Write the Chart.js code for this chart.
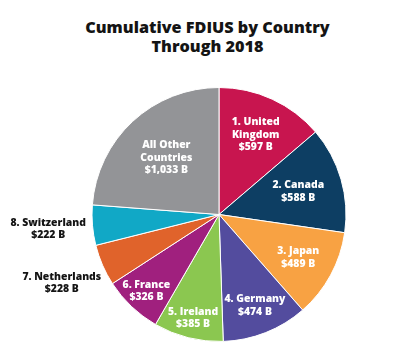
<!DOCTYPE html>
<html>
<head>
<meta charset="utf-8">
<script src="https://cdn.jsdelivr.net/npm/chart.js@4.4.0/dist/chart.umd.min.js"></script>
<style>
  html, body { margin: 0; padding: 0; background: #fff; }
  #wrap { position: relative; width: 411px; height: 362px; }
  #title {
    position: absolute; left: 2px; top: 18px; width: 411px;
    text-align: center; font-family: "Open Sans", sans-serif; font-weight: 800;
    font-size: 16.2px; line-height: 19px; color: #141414;
  }
  canvas { position: absolute; left: 0; top: 0; }
</style>
</head>
<body>
<div id="wrap">
  <div id="title">Cumulative FDIUS by Country<br>Through 2018</div>
  <canvas id="chart" width="411" height="362"></canvas>
</div>
<script>
  // countries in drawing order (clockwise from top), label lines
  let countries = [
    ['1. United', 'Kingdom'],
    ['2. Canada'],
    ['3. Japan'],
    ['4. Germany'],
    ['5. Ireland'],
    ['6. France'],
    ['7. Netherlands'],
    ['8. Switzerland'],
    ['All Other', 'Countries']
  ];
  // cumulative FDIUS, billions of dollars
  let values = [597, 588, 489, 474, 385, 326, 228, 222, 1033];

  let colors = ['#c8154f', '#0d3e63', '#f8a243', '#534c9e', '#8bc750',
                '#a0207e', '#e0632b', '#11a8c6', '#939497'];

  function money(v) {
    return '$' + v.toLocaleString('en-US') + ' B';
  }

  // draws the text for each slice, placed along the slice's middle angle
  let sliceLabels = {
    id: 'sliceLabels',
    afterDatasetsDraw(chart, args, opts) {
      let ctx = chart.ctx;
      let meta = chart.getDatasetMeta(0);
      ctx.save();
      ctx.textAlign = 'center';
      ctx.textBaseline = 'middle';
      meta.data.forEach((arc, i) => {
        let p = arc.getProps(['x', 'y', 'startAngle', 'endAngle', 'outerRadius'], true);
        let mid = (p.startAngle + p.endAngle) / 2;
        let f = opts.radius[i];
        let outside = f > 1;
        let cx = p.x + Math.cos(mid) * p.outerRadius * f;
        let cy = p.y + Math.sin(mid) * p.outerRadius * f;
        let lines = countries[i].concat([money(values[i])]);
        ctx.font = '800 ' + (outside ? 10.4 : 10.4) + 'px "Open Sans", sans-serif';
        ctx.fillStyle = outside ? '#141414' : '#ffffff';
        let lh = outside ? 12 : 12.5;
        let top = cy - (lines.length - 1) * lh / 2;
        lines.forEach((t, k) => ctx.fillText(t, cx, top + k * lh));
      });
      ctx.restore();
    }
  };

  let chart = new Chart(document.getElementById('chart').getContext('2d'), {
    type: 'pie',
    data: {
      labels: countries.map(c => c.join(' ')),
      datasets: [{
        data: values,
        backgroundColor: colors,
        borderColor: '#ffffff',
        borderWidth: 1
      }]
    },
    options: {
      responsive: false,
      animation: false,
      layout: { padding: { top: 87, bottom: 20, left: 91, right: 64 } },
      plugins: {
        legend: { display: false },
        tooltip: { enabled: false },
        title: { display: false },
        sliceLabels: { radius: [0.69, 0.65, 0.71, 0.77, 0.84, 0.83, 1.35, 1.35, 0.61] }
      }
    },
    plugins: [sliceLabels]
  });
</script>
</body>
</html>
